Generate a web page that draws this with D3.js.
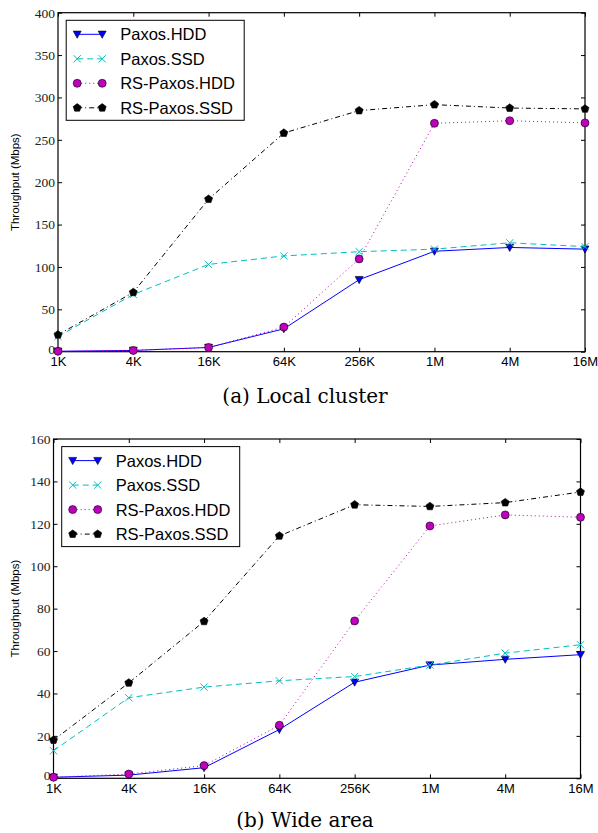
<!DOCTYPE html>
<html>
<head>
<meta charset="utf-8">
<script src="https://cdn.jsdelivr.net/npm/d3@7"></script>
<style>
  html, body { margin: 0; padding: 0; background: #fff; }
  svg { display: block; }
</style>
</head>
<body>
<svg id="chart" width="598" height="833"></svg>
<script>
// ---------- data ----------
const categories = ["1K", "4K", "16K", "64K", "256K", "1M", "4M", "16M"];
const seriesNames = ["Paxos.HDD", "Paxos.SSD", "RS-Paxos.HDD", "RS-Paxos.SSD"];

// (a) Local cluster
const localPaxosHDD   = [0.5, 1.5, 5, 27, 85, 118.5, 123, 121];
const localPaxosSSD   = [18, 67.5, 103, 113, 118, 121, 128.5, 124];
const localRSPaxosHDD = [0.5, 1.5, 5, 29, 109.5, 269.5, 272.5, 270];
const localRSPaxosSSD = [20, 70, 180, 258, 284.5, 291.5, 287.5, 286.5];
const localYTicks = [0, 50, 100, 150, 200, 250, 300, 350, 400];

// (b) Wide area
const widePaxosHDD   = [0.5, 1.5, 5, 23, 45.3, 53.4, 56.1, 58.3];
const widePaxosSSD   = [13, 38, 43, 46, 48, 53.4, 59, 63];
const wideRSPaxosHDD = [0.5, 2, 6, 25, 74.2, 119, 124.2, 123.1];
const wideRSPaxosSSD = [18, 45, 74, 114.3, 129, 128.2, 130, 135];
const wideYTicks = [0, 20, 40, 60, 80, 100, 120, 140, 160];

const captions = ["(a) Local cluster", "(b) Wide area"];
const yLabel = "Throughput (Mbps)";

// ---------- styles ----------
const styles = [
  { color: "#0000ff", dash: null,        marker: "tri" },
  { color: "#00bfbf", dash: "6,4",       marker: "x" },
  { color: "#bf00bf", dash: "1,3",       marker: "circle" },
  { color: "#000000", dash: "5,3,1,3",   marker: "pent" }
];

const panels = [
  { left: 58, right: 585, top: 12.7, bottom: 351.7, yMax: 400, yTicks: localYTicks,
    data: [localPaxosHDD, localPaxosSSD, localRSPaxosHDD, localRSPaxosSSD],
    caption: captions[0], capY: 403 },
  { left: 53.5, right: 580.5, top: 439, bottom: 778.3, yMax: 160, yTicks: wideYTicks,
    data: [widePaxosHDD, widePaxosSSD, wideRSPaxosHDD, wideRSPaxosSSD],
    caption: captions[1], capY: 827 }
];

const svg = d3.select("#chart");

function drawMarker(g, kind, cx, cy, color) {
  if (kind === "tri") {
    const s = 4;
    g.append("path")
      .attr("d", `M${cx - s},${cy - s * 0.8} L${cx + s},${cy - s * 0.8} L${cx},${cy + s * 1.0} Z`)
      .attr("fill", color).attr("stroke", "#000").attr("stroke-width", 0.6);
  } else if (kind === "x") {
    const s = 3.6;
    g.append("path")
      .attr("d", `M${cx - s},${cy - s} L${cx + s},${cy + s} M${cx - s},${cy + s} L${cx + s},${cy - s}`)
      .attr("stroke", color).attr("stroke-width", 1).attr("fill", "none");
  } else if (kind === "circle") {
    g.append("circle").attr("cx", cx).attr("cy", cy).attr("r", 4)
      .attr("fill", color).attr("stroke", "#000").attr("stroke-width", 0.6);
  } else if (kind === "pent") {
    const r = 4.2;
    const pts = d3.range(5).map(i => {
      const a = -Math.PI / 2 + i * 2 * Math.PI / 5;
      return [cx + r * Math.cos(a), cy + r * Math.sin(a)];
    });
    g.append("path").attr("d", "M" + pts.map(p => p.join(",")).join("L") + "Z")
      .attr("fill", color).attr("stroke", "#000").attr("stroke-width", 0.6);
  }
}

panels.forEach(p => {
  const g = svg.append("g");
  const x = d3.scaleLinear().domain([0, categories.length - 1]).range([p.left, p.right]);
  const y = d3.scaleLinear().domain([0, p.yMax]).range([p.bottom, p.top]);
  const idx = d3.range(categories.length);

  // axes
  const xb = g.append("g").attr("transform", `translate(0,${p.bottom})`)
    .call(d3.axisBottom(x).tickValues(idx).tickFormat(i => categories[i]).tickSize(-4).tickPadding(5));
  xb.selectAll("text").attr("font-family", "'Liberation Sans', Arial, sans-serif")
    .attr("font-size", 13).attr("fill", "#000");
  const xt = g.append("g").attr("transform", `translate(0,${p.top})`)
    .call(d3.axisTop(x).tickValues(idx).tickFormat("").tickSize(-4));
  const yl = g.append("g").attr("transform", `translate(${p.left},0)`)
    .call(d3.axisLeft(y).tickValues(p.yTicks).tickSize(-4).tickPadding(3));
  yl.selectAll("text").attr("font-family", "'Liberation Serif', 'Times New Roman', serif")
    .attr("font-size", 13.5).attr("fill", "#222")
    .attr("dy", d => d === 0 ? "0.1em" : "0.32em");
  const yr = g.append("g").attr("transform", `translate(${p.right},0)`)
    .call(d3.axisRight(y).tickValues(p.yTicks).tickFormat("").tickSize(-4));
  [xb, xt, yl, yr].forEach(a => {
    a.select(".domain").remove();
    a.selectAll("line").attr("stroke", "#000").attr("stroke-width", 1);
  });

  g.append("rect").attr("x", p.left).attr("y", p.top)
    .attr("width", p.right - p.left).attr("height", p.bottom - p.top)
    .attr("fill", "none").attr("stroke", "#000").attr("stroke-width", 1.2);

  // y label
  g.append("text")
    .attr("transform", `translate(19,${(p.top + p.bottom) / 2}) rotate(-90)`)
    .attr("text-anchor", "middle")
    .attr("font-family", "'Liberation Sans', Arial, sans-serif")
    .attr("font-size", 11.5).attr("fill", "#000")
    .text(yLabel);

  // series
  const line = d3.line().x((d, i) => x(i)).y(d => y(d));
  p.data.forEach((vals, si) => {
    const st = styles[si];
    const sg = g.append("g");
    sg.append("path").datum(vals).attr("d", line)
      .attr("fill", "none").attr("stroke", st.color).attr("stroke-width", 1)
      .attr("stroke-dasharray", st.dash);
    vals.forEach((v, i) => drawMarker(sg, st.marker, x(i), y(v), st.color));
  });

  // legend
  const lx = p.left + 8.2, ly = p.top + 7.6;
  const lg = g.append("g").attr("transform", `translate(${lx},${ly})`);
  lg.append("rect").attr("width", 178).attr("height", 100)
    .attr("fill", "#fff").attr("stroke", "#000").attr("stroke-width", 1);
  seriesNames.forEach((name, si) => {
    const st = styles[si];
    const ry = 14 + si * 24.5;
    lg.append("line").attr("x1", 11).attr("x2", 36).attr("y1", ry).attr("y2", ry)
      .attr("stroke", st.color).attr("stroke-width", 1).attr("stroke-dasharray", st.dash);
    drawMarker(lg, st.marker, 11, ry, st.color);
    drawMarker(lg, st.marker, 36, ry, st.color);
    lg.append("text").attr("x", 54).attr("y", ry).attr("dy", "0.36em")
      .attr("font-family", "'Liberation Sans', Arial, sans-serif")
      .attr("font-size", 16.5).attr("fill", "#000").text(name);
  });

  // caption
  g.append("text").attr("x", 305).attr("y", p.capY).attr("text-anchor", "middle")
    .attr("font-family", "'DejaVu Serif', serif").attr("font-size", 20)
    .attr("fill", "#000").text(p.caption);
});
</script>
</body>
</html>
